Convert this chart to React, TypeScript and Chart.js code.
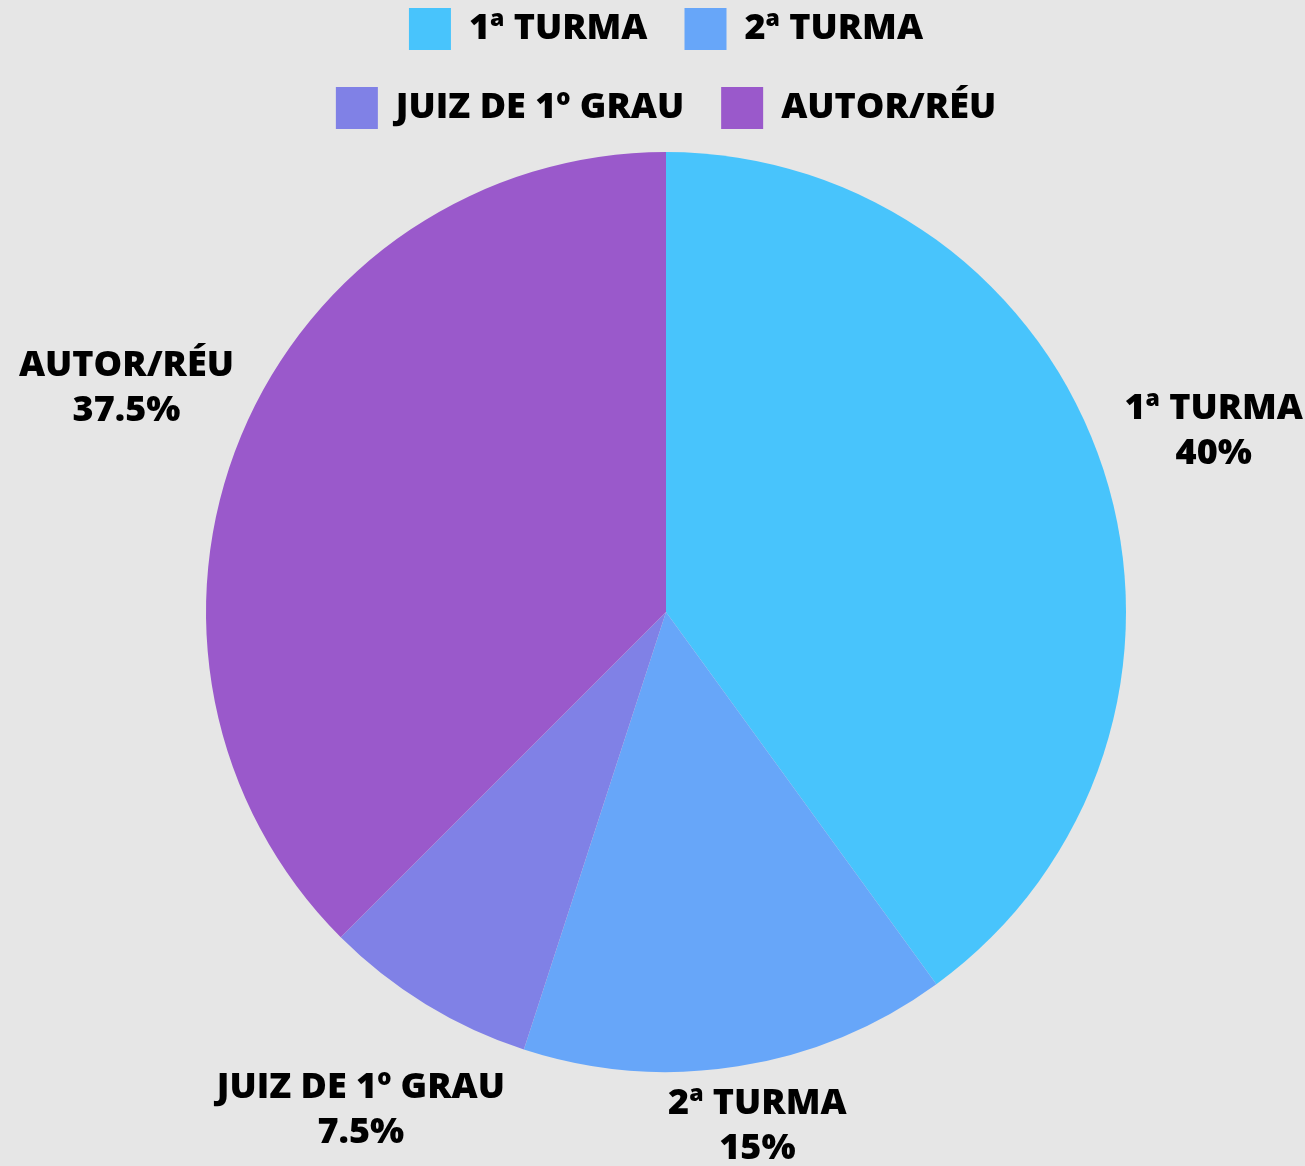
import React, { useEffect, useRef } from 'react';
import { Chart, registerables } from 'chart.js';

Chart.register(...registerables);

const categories = ['1ª TURMA', '2ª TURMA', 'JUIZ DE 1º GRAU', 'AUTOR/RÉU'];
const shares = [40, 15, 7.5, 37.5];
const sliceColors = ['#48C4FC', '#67A6F9', '#8081E6', '#9A59CB'];

const FONT = "'Open Sans', 'Noto Sans', sans-serif";
const W = 1305;
const H = 1193;
const SHIFT = 27;

const legendWrap = {
  id: 'legendWrap',
  beforeLayout(chart: any) {
    const lg: any = chart.legend;
    if (lg && !lg.__wrapped) {
      const orig = lg.fit;
      lg.fit = function () {
        this.maxWidth = Math.min(this.maxWidth, 860);
        orig.call(this);
      };
      lg.__wrapped = true;
    }
  },
};

const sliceLabels = {
  id: 'sliceLabels',
  afterDatasetsDraw(chart: any) {
    const { ctx } = chart;
    const meta = chart.getDatasetMeta(0);
    const data = chart.data.datasets[0].data as number[];
    const total = data.reduce((a: number, b: number) => a + b, 0);
    ctx.save();
    ctx.font = `800 36px ${FONT}`;
    ctx.fillStyle = '#000';
    ctx.textAlign = 'center';
    ctx.textBaseline = 'middle';
    const lh = 45;
    meta.data.forEach((arc: any, i: number) => {
      const { x, y, startAngle, endAngle, outerRadius } = arc.getProps(
        ['x', 'y', 'startAngle', 'endAngle', 'outerRadius'],
        true
      );
      const mid = (startAngle + endAngle) / 2;
      const d = outerRadius + 124;
      const label = String(chart.data.labels[i]);
      const half = ctx.measureText(label).width / 2;
      let cx = x + Math.cos(mid) * d;
      cx = Math.min(Math.max(cx, half + 10), chart.width - half - 2);
      let cy = y + Math.sin(mid) * d;
      cy = Math.min(cy, chart.height - 38);
      const pct = Number(((data[i] / total) * 100).toFixed(1)) + '%';
      ctx.fillText(label, cx, cy - lh / 2);
      ctx.fillText(pct, cx, cy + lh / 2);
    });
    ctx.restore();
  },
};

export default function App() {
  const ref = useRef<HTMLCanvasElement | null>(null);

  useEffect(() => {
    if (!ref.current) return;
    const chart = new Chart(ref.current, {
      type: 'pie',
      data: {
        labels: categories,
        datasets: [
          {
            data: shares,
            backgroundColor: sliceColors,
            borderWidth: 0,
            radius: 460,
          } as any,
        ],
      },
      options: {
        animation: false,
        responsive: false,
        devicePixelRatio: 1,
        layout: { padding: { left: 27, right: 0, top: 0, bottom: 79 } },
        plugins: {
          tooltip: { enabled: false },
          legend: {
            position: 'top',
            labels: {
              boxWidth: 42,
              boxHeight: 42,
              padding: 37,
              color: '#000',
              font: { family: FONT, size: 36, weight: '800' },
            },
          },
        },
      } as any,
      plugins: [legendWrap, sliceLabels],
    });
    return () => chart.destroy();
  }, []);

  return (
    <div
      style={{
        position: 'fixed',
        left: 0,
        top: 0,
        width: W,
        height: 1166,
        background: '#E6E6E6',
        overflow: 'hidden',
      }}
    >
      <canvas
        ref={ref}
        width={W}
        height={H}
        style={{ position: 'absolute', left: 0, top: -SHIFT - 2, width: W, height: H }}
      />
    </div>
  );
}
